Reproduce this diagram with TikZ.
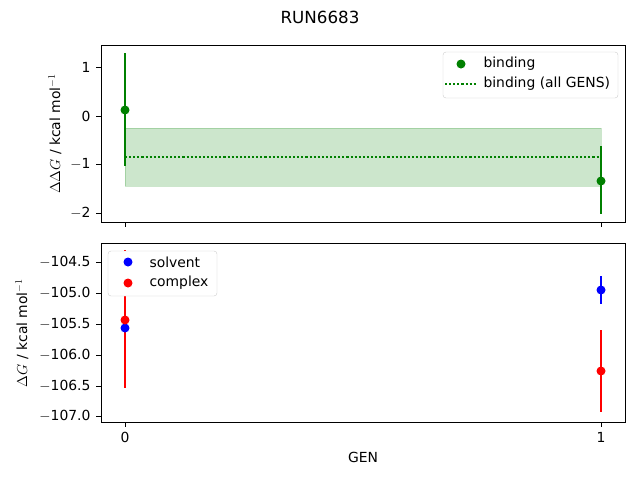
\documentclass[tikz,border=0pt]{standalone}
\usepackage{fontspec}
\setmainfont{DejaVu Sans}
\begin{document}
\begin{tikzpicture}[x=1pt,y=-1pt,font=\fontsize{13.9}{16}\selectfont,
 ax/.style={draw=black,line width=0.8pt},
 tk/.style={line width=0.8pt},
 eb/.style={line width=2.1pt},
 dot/.style={circle,inner sep=0pt,minimum size=9pt}]
\useasboundingbox (0,0) rectangle (640,480);
\definecolor{mg}{RGB}{0,128,0}
\node (title) at (320,17) {\fontsize{16.7}{19}\selectfont RUN6683};
\fill[mg,opacity=0.2,draw=mg] (125,128) rectangle (601,186);
\draw[mg,dotted,line width=2.1pt] (125,157) -- (601,157);
\draw[eb,mg] (125,53) -- (125,166);
\node[dot,fill=mg] (b0) at (125,110) {};
\draw[eb,mg] (601,146) -- (601,214);
\node[dot,fill=mg] (b1) at (601,181) {};
\draw[ax] (101,45) rectangle (625,222);
\foreach \v/\l in {1/1,0/0,-1/$-$1,-2/$-$2}{
 \draw[tk] (101,{116-48.5*\v}) -- (96,{116-48.5*\v});
 \node[anchor=east] at (94,{116-48.5*\v}) {\l};}
\draw[tk] (125,222) -- (125,227);
\draw[tk] (601,222) -- (601,227);
\node[rotate=90] (yl1) at (55,134) {$\Delta\Delta G$ / kcal mol$^{-1}$};
\draw[draw=black!20,fill=white,rounded corners=3pt] (443,52) rectangle (618,98);
\node[dot,fill=mg] (lb) at (461,64) {};
\node[anchor=west] at (480,64) {binding};
\draw[mg,dotted,line width=2.1pt] (445,84) -- (477,84);
\node[anchor=west] at (480,84) {binding (all GENS)};
\draw[eb,blue] (125,322) -- (125,334);
\draw[eb,red] (125,250) -- (125,388);
\node[dot,fill=blue] at (125,328) {};
\node[dot,fill=red] at (125,320) {};
\draw[eb,blue] (601,276) -- (601,304);
\node[dot,fill=blue] at (601,290) {};
\draw[eb,red] (601,330) -- (601,412);
\node[dot,fill=red] at (601,371) {};
\draw[ax] (101,243) rectangle (625,422);
\foreach \y/\l in {262/$-$104.5,293/$-$105.0,324/$-$105.5,355/$-$106.0,386/$-$106.5,416/$-$107.0}{
 \draw[tk] (101,\y) -- (96,\y);
 \node[anchor=east] at (94,\y) {\l};}
\draw[tk] (125,422) -- (125,427);
\draw[tk] (601,422) -- (601,427);
\node at (125,437) {0};
\node at (601,437) {1};
\node (xl) at (363,457) {GEN};
\node[rotate=90] (yl2) at (22,333) {$\Delta G$ / kcal mol$^{-1}$};
\draw[draw=black!20,fill=white,rounded corners=3pt] (108,251) rectangle (217,296);
\node[dot,fill=blue] at (128,262) {};
\node[anchor=west] at (146,262) {solvent};
\node[dot,fill=red] at (128,283) {};
\node[anchor=west] at (146,283) {complex};
\end{tikzpicture}
\end{document}
